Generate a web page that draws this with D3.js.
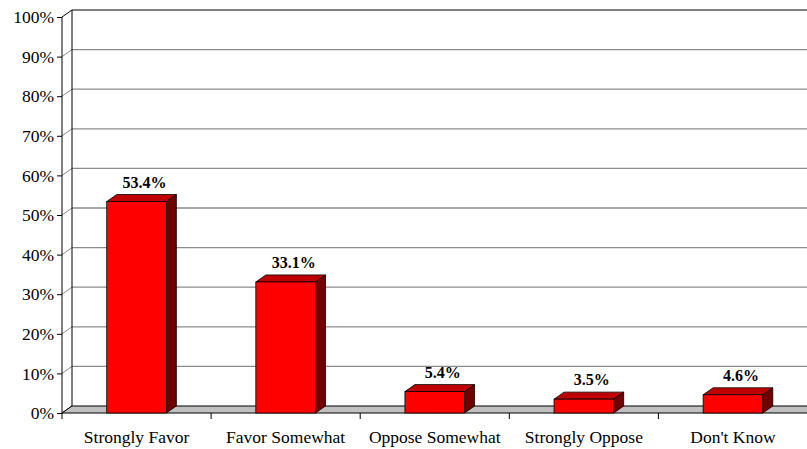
<!DOCTYPE html>
<html>
<head>
<meta charset="utf-8">
<script src="https://cdn.jsdelivr.net/npm/d3@7"></script>
<style>
  body { margin: 0; background: #fff; }
  svg { display: block; }
</style>
</head>
<body>
<div id="chart"></div>
<script>
// data
var categories = ["Strongly Favor", "Favor Somewhat", "Oppose Somewhat", "Strongly Oppose", "Don't Know"];
var values = [53.4, 33.1, 5.4, 3.5, 4.6];
var yTicks = [0, 10, 20, 30, 40, 50, 60, 70, 80, 90, 100];

var W = 807, H = 449;
var plotLeft = 62, plotRight = 807, plotTop = 17, plotBottom = 413;
var dx = 10, dy = -7; // 3d depth offset
var serif = "'Liberation Serif', 'Times New Roman', 'DejaVu Serif', serif";

var svg = d3.select("#chart").append("svg")
    .attr("width", W)
    .attr("height", H);

var x = d3.scaleBand().domain(categories).range([plotLeft, plotRight + 0.5]);
var y = d3.scaleLinear().domain([0, 100]).range([plotBottom, plotTop]);

// back wall grid lines
var grid = svg.append("g");
grid.selectAll("line.grid")
    .data(yTicks.slice(1))
    .enter().append("line")
    .attr("x1", plotLeft + dx).attr("x2", W)
    .attr("y1", function(d) { return y(d) + dy; })
    .attr("y2", function(d) { return y(d) + dy; })
    .attr("stroke", function(d) { return d == 100 ? "#000" : "#8c8c8c"; })
    .attr("stroke-width", function(d) { return d == 100 ? 1 : 1.3; });

// little diagonals from axis to wall
grid.selectAll("line.diag")
    .data(yTicks)
    .enter().append("line")
    .attr("x1", plotLeft).attr("y1", function(d) { return y(d); })
    .attr("x2", plotLeft + dx).attr("y2", function(d) { return y(d) + dy; })
    .attr("stroke", function(d) { return d == 100 || d == 0 ? "#000" : "#8c8c8c"; })
    .attr("stroke-width", 1);

// back wall left edge
svg.append("line")
    .attr("x1", plotLeft + dx).attr("x2", plotLeft + dx)
    .attr("y1", y(100) + dy).attr("y2", y(0) + dy)
    .attr("stroke", "#000");

// floor
svg.append("path")
    .attr("d", "M" + plotLeft + "," + y(0) + "L" + (plotLeft + dx) + "," + (y(0) + dy) +
               "L" + (W + 2) + "," + (y(0) + dy) + "L" + (W + 2) + "," + y(0) + "Z")
    .attr("fill", "#c0c0c0")
    .attr("stroke", "#000")
    .attr("stroke-width", 1);

// bars
var bw = x.bandwidth() * 0.4;
var bars = svg.append("g").selectAll("g")
    .data(values)
    .enter().append("g");

bars.append("path") // top
    .attr("d", function(d, i) {
        var x0 = x.bandwidth() / 2 + x(categories[i]) - bw / 2, y0 = y(d);
        return "M" + x0 + "," + y0 + "L" + (x0 + dx) + "," + (y0 + dy) +
               "L" + (x0 + bw + dx) + "," + (y0 + dy) + "L" + (x0 + bw) + "," + y0 + "Z";
    })
    .attr("fill", "#c00000").attr("stroke", "#000").attr("stroke-width", 0.8);

bars.append("path") // side
    .attr("d", function(d, i) {
        var x1 = x(categories[i]) + x.bandwidth() / 2 + bw / 2, y0 = y(d);
        return "M" + x1 + "," + y0 + "L" + (x1 + dx) + "," + (y0 + dy) +
               "L" + (x1 + dx) + "," + (y(0) + dy) + "L" + x1 + "," + y(0) + "Z";
    })
    .attr("fill", "#6e0000").attr("stroke", "#000").attr("stroke-width", 0.8);

bars.append("rect") // front
    .attr("x", function(d, i) { return x(categories[i]) + x.bandwidth() / 2 - bw / 2; })
    .attr("y", function(d) { return y(d); })
    .attr("width", bw)
    .attr("height", function(d) { return y(0) - y(d); })
    .attr("fill", "#ff0000").attr("stroke", "#000").attr("stroke-width", 0.8);

bars.append("text")
    .attr("x", function(d, i) { return x(categories[i]) + x.bandwidth() / 2 + dx / 2 + 3; })
    .attr("y", function(d) { return y(d) + dy - 7; })
    .attr("text-anchor", "middle")
    .style("font-family", serif)
    .style("font-weight", "bold")
    .style("font-size", "16px")
    .text(function(d) { return d.toFixed(1) + "%"; });

// y axis
var yAxis = svg.append("g")
    .attr("transform", "translate(" + plotLeft + ",0)")
    .call(d3.axisLeft(y).tickValues(yTicks).tickSize(5).tickPadding(3)
        .tickFormat(function(d) { return d + "%"; }));
yAxis.select(".domain").attr("d", "M0," + y(100) + "V" + y(0));
yAxis.selectAll("text")
    .style("font-family", serif)
    .style("font-size", "17.5px")
    .attr("fill", "#000");

// x axis
var xAxis = svg.append("g")
    .attr("transform", "translate(0," + plotBottom + ")")
    .call(d3.axisBottom(x).tickSize(0).tickPadding(18));
xAxis.select(".domain").remove();
xAxis.selectAll("text")
    .style("font-family", serif)
    .style("font-size", "17.5px")
    .attr("fill", "#000");
xAxis.selectAll("line.sep")
    .data(categories.slice(1))
    .enter().append("line")
    .attr("class", "sep")
    .attr("x1", function(d) { return x(d); })
    .attr("x2", function(d) { return x(d); })
    .attr("y1", 0).attr("y2", 6)
    .attr("stroke", "#000");
xAxis.append("line")
    .attr("x1", plotLeft).attr("x2", plotLeft).attr("y1", 0).attr("y2", 6)
    .attr("stroke", "#000");
</script>
</body>
</html>
